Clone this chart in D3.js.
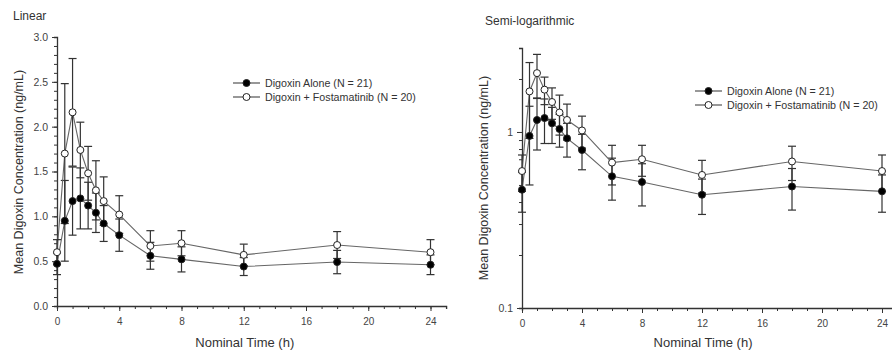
<!DOCTYPE html>
<html>
<head>
<meta charset="utf-8">
<script src="https://cdn.jsdelivr.net/npm/d3@7"></script>
<style>
  body { margin: 0; background: #fff; }
  svg { display: block; font-family: "Liberation Sans", Arial, sans-serif; }
  .axis path, .axis line { stroke: #333; }
  .axis text { fill: #444; }
</style>
</head>
<body>
<svg id="chart" width="892" height="350"></svg>
<script>
// nominal sampling times (h)
const times = [0, 0.5, 1, 1.5, 2, 2.5, 3, 4, 6, 8, 12, 18, 24];

// Digoxin alone (N = 21): mean and SD
const aloneMean = [0.47, 0.95, 1.17, 1.20, 1.12, 1.04, 0.92, 0.79, 0.56, 0.52, 0.44, 0.49, 0.46];
const aloneSd   = [0.12, 0.45, 0.38, 0.34, 0.26, 0.22, 0.20, 0.18, 0.15, 0.14, 0.10, 0.13, 0.11];

// Digoxin + Fostamatinib (N = 20): mean and SD
const fostaMean = [0.60, 1.70, 2.16, 1.74, 1.48, 1.29, 1.17, 1.02, 0.67, 0.70, 0.57, 0.68, 0.60];
const fostaSd   = [0.14, 0.78, 0.60, 0.31, 0.30, 0.33, 0.27, 0.21, 0.17, 0.14, 0.12, 0.15, 0.14];

const xTicks = [0, 4, 8, 12, 16, 20, 24];
const linTicks = [0, 0.5, 1.0, 1.5, 2.0, 2.5, 3.0];
const logTicks = [0.1, 1];
const logMinor = [0.2, 0.3, 0.4, 0.5, 0.6, 0.7, 0.8, 0.9, 2, 3];

const seriesList = [
  { name: 'Digoxin Alone (N = 21)', mean: aloneMean, sd: aloneSd, fill: '#000' },
  { name: 'Digoxin + Fostamatinib (N = 20)', mean: fostaMean, sd: fostaSd, fill: '#fff' }
];

const svg = d3.select('#chart');

function drawPanel(opt) {
  const g = svg.append('g');
  const x = d3.scaleLinear().domain([0, 25]).range([opt.x0, opt.x0 + (opt.x24 - opt.x0) * 25 / 24]);
  const y = opt.log
    ? d3.scaleLog().domain([0.1, 3]).range([opt.yBottom, opt.yTop])
    : d3.scaleLinear().domain([0, 3]).range([opt.yBottom, opt.yTop]);

  // x axis: minor every hour, labels every 4
  g.append('g').attr('class', 'axis')
    .attr('transform', `translate(0,${opt.yBottom})`)
    .call(d3.axisBottom(x).tickValues(d3.range(0, 26, 1)).tickSize(3).tickFormat(''))
    .call(a => a.select('.domain').attr('stroke-width', 1.3));
  g.append('g').attr('class', 'axis')
    .attr('transform', `translate(0,${opt.yBottom})`)
    .call(d3.axisBottom(x).tickValues(xTicks).tickSize(5).tickPadding(7).tickFormat(d3.format('d')))
    .call(a => a.select('.domain').remove())
    .call(a => a.selectAll('text').attr('font-size', 10));

  // y axis
  if (opt.log) {
    g.append('g').attr('class', 'axis')
      .attr('transform', `translate(${opt.x0},0)`)
      .call(d3.axisLeft(y).tickValues(logMinor).tickSize(3).tickFormat(''))
      .call(a => a.select('.domain').attr('stroke-width', 1.3));
    g.append('g').attr('class', 'axis')
      .attr('transform', `translate(${opt.x0},0)`)
      .call(d3.axisLeft(y).tickValues(logTicks).tickSize(5).tickPadding(4).tickFormat(d => d === 1 ? '1' : '0.1'))
      .call(a => a.select('.domain').remove())
      .call(a => a.selectAll('text').attr('font-size', 10.5));
  } else {
    g.append('g').attr('class', 'axis')
      .attr('transform', `translate(${opt.x0},0)`)
      .call(d3.axisLeft(y).tickValues(d3.range(0, 3.01, 0.1)).tickSize(3).tickFormat(''))
      .call(a => a.select('.domain').attr('stroke-width', 1.3));
    g.append('g').attr('class', 'axis')
      .attr('transform', `translate(${opt.x0},0)`)
      .call(d3.axisLeft(y).tickValues(linTicks).tickSize(5).tickPadding(4).tickFormat(d3.format('.1f')))
      .call(a => a.select('.domain').remove())
      .call(a => a.selectAll('text').attr('font-size', 10.5));
  }

  // titles
  g.append('text').attr('x', opt.titleX).attr('y', opt.titleY)
    .attr('font-size', 12).attr('fill', '#333').text(opt.title);
  g.append('text')
    .attr('transform', `translate(${opt.yTitleX},${opt.yTitleY}) rotate(-90)`)
    .attr('text-anchor', 'middle').attr('font-size', 12.5).attr('fill', '#333')
    .text('Mean Digoxin Concentration (ng/mL)');
  g.append('text').attr('x', (x(0) + x(24)) / 2 + 1).attr('y', 347)
    .attr('text-anchor', 'middle').attr('font-size', 13).attr('fill', '#333')
    .text('Nominal Time (h)');

  const line = d3.line().x(d => x(d.t)).y(d => y(d.v));

  seriesList.forEach(s => {
    const pts = times.map((t, i) => ({ t, v: s.mean[i], sd: s.sd[i] }));
    g.append('path').datum(pts).attr('d', line)
      .attr('fill', 'none').attr('stroke', '#666').attr('stroke-width', 1.1);

    const eb = g.append('g').attr('stroke', '#333').attr('stroke-width', 1.2);
    pts.forEach(p => {
      const lo = p.v - p.sd, hi = p.v + p.sd;
      eb.append('line').attr('x1', x(p.t)).attr('x2', x(p.t)).attr('y1', y(lo)).attr('y2', y(hi));
      [lo, hi].forEach(e => {
        eb.append('line').attr('x1', x(p.t) - 4).attr('x2', x(p.t) + 4).attr('y1', y(e)).attr('y2', y(e));
      });
    });
  });

  seriesList.forEach(s => {
    g.append('g').selectAll('circle')
      .data(times.map((t, i) => ({ t, v: s.mean[i] })))
      .join('circle')
      .attr('cx', d => x(d.t)).attr('cy', d => y(d.v)).attr('r', 3.5)
      .attr('fill', s.fill).attr('stroke', '#222').attr('stroke-width', 1);
  });

  // legend
  const lg = g.append('g').attr('transform', `translate(${opt.legX},${opt.legY})`);
  seriesList.forEach((s, i) => {
    const row = lg.append('g').attr('transform', `translate(0,${i * 14})`);
    row.append('line').attr('x1', 0).attr('x2', 27).attr('y1', 0).attr('y2', 0)
      .attr('stroke', '#444').attr('stroke-width', 1.1);
    row.append('circle').attr('cx', 13.5).attr('cy', 0).attr('r', 3.5)
      .attr('fill', s.fill).attr('stroke', '#222');
    row.append('text').attr('x', 32).attr('y', 3.8).attr('font-size', 10.7).attr('fill', '#333').text(s.name);
  });
}

drawPanel({
  log: false, x0: 57, x24: 430.5, yTop: 37, yBottom: 306,
  title: 'Linear', titleX: 13, titleY: 20,
  yTitleX: 23, yTitleY: 172,
  legX: 233, legY: 83
});

drawPanel({
  log: true, x0: 522, x24: 882, yTop: 48, yBottom: 308,
  title: 'Semi-logarithmic', titleX: 485, titleY: 25,
  yTitleX: 488, yTitleY: 178,
  legX: 695, legY: 91
});
</script>
</body>
</html>
